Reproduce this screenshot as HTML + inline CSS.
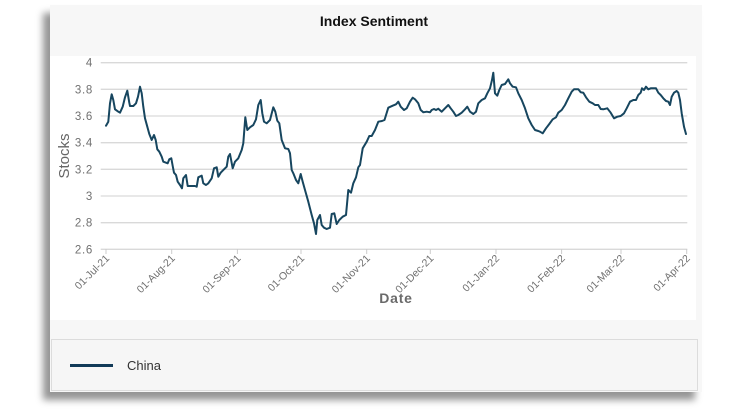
<!DOCTYPE html>
<html>
<head>
<meta charset="utf-8">
<style>
  html, body { margin:0; padding:0; background:#fff; }
  body { width:750px; height:420px; position:relative; overflow:hidden; font-family:"Liberation Sans", sans-serif; }
  .card { position:absolute; left:50px; top:5px; width:652px; height:387px; background:#f7f7f7;
          box-shadow:-7px 8px 7px rgba(0,0,0,0.42); }
  .plot { position:absolute; left:50px; top:56px; width:646px; height:264px; background:#fff; }
  .legend { position:absolute; left:51px; top:339px; width:645px; height:50px; background:#f6f6f6; border:1px solid #dcdcdc; }
  svg { position:absolute; left:0; top:0; }
</style>
</head>
<body>
<div class="card"></div>
<div class="plot"></div>
<div class="legend"></div>
<svg width="750" height="420" viewBox="0 0 750 420">
  <text x="374" y="26" text-anchor="middle" font-family="Liberation Sans, sans-serif" font-size="14" font-weight="bold" fill="#111">Index Sentiment</text>
  <g stroke="#d9d9d9" stroke-width="1.3">
    <line x1="100.7" y1="62.7" x2="687.3" y2="62.7"/>
    <line x1="100.7" y1="89.3" x2="687.3" y2="89.3"/>
    <line x1="100.7" y1="116" x2="687.3" y2="116"/>
    <line x1="100.7" y1="142.7" x2="687.3" y2="142.7"/>
    <line x1="100.7" y1="169.3" x2="687.3" y2="169.3"/>
    <line x1="100.7" y1="196" x2="687.3" y2="196"/>
    <line x1="100.7" y1="222.7" x2="687.3" y2="222.7"/>
    <line x1="100.7" y1="249.3" x2="687.3" y2="249.3"/>
  </g>
  <g stroke="#ccc" stroke-width="1">
    <line x1="106" y1="249" x2="106" y2="254"/>
    <line x1="171.7" y1="249" x2="171.7" y2="254"/>
    <line x1="237.4" y1="249" x2="237.4" y2="254"/>
    <line x1="301" y1="249" x2="301" y2="254"/>
    <line x1="366.7" y1="249" x2="366.7" y2="254"/>
    <line x1="430.3" y1="249" x2="430.3" y2="254"/>
    <line x1="496" y1="249" x2="496" y2="254"/>
    <line x1="561.6" y1="249" x2="561.6" y2="254"/>
    <line x1="621" y1="249" x2="621" y2="254"/>
    <line x1="686.7" y1="249" x2="686.7" y2="254"/>
  </g>
  <g font-family="Liberation Sans, sans-serif" font-size="11.5" fill="#707070" text-anchor="end" letter-spacing="0.7">
    <text x="93" y="66.7">4</text>
    <text x="93" y="93.3">3.8</text>
    <text x="93" y="120">3.6</text>
    <text x="93" y="146.7">3.4</text>
    <text x="93" y="173.3">3.2</text>
    <text x="93" y="200">3</text>
    <text x="93" y="226.7">2.8</text>
    <text x="93" y="253.3">2.6</text>
  </g>
  <text transform="translate(69,156) rotate(-90)" text-anchor="middle" font-family="Liberation Sans, sans-serif" font-size="15" fill="#666">Stocks</text>
  <g font-family="Liberation Sans, sans-serif" font-size="10.5" fill="#707070" text-anchor="end">
    <text transform="translate(110,259) rotate(-45)">01-Jul-21</text>
    <text transform="translate(175.7,259) rotate(-45)">01-Aug-21</text>
    <text transform="translate(241.4,259) rotate(-45)">01-Sep-21</text>
    <text transform="translate(305,259) rotate(-45)">01-Oct-21</text>
    <text transform="translate(370.7,259) rotate(-45)">01-Nov-21</text>
    <text transform="translate(434.3,259) rotate(-45)">01-Dec-21</text>
    <text transform="translate(500,259) rotate(-45)">01-Jan-22</text>
    <text transform="translate(565.6,259) rotate(-45)">01-Feb-22</text>
    <text transform="translate(625,259) rotate(-45)">01-Mar-22</text>
    <text transform="translate(690.7,259) rotate(-45)">01-Apr-22</text>
  </g>
  <text x="396" y="303" text-anchor="middle" font-family="Liberation Sans, sans-serif" font-size="14" font-weight="bold" fill="#6a6a6a" letter-spacing="0.8">Date</text>
  <polyline fill="none" stroke="#17465f" stroke-width="2" stroke-linejoin="round" stroke-linecap="round" points="106,125.7 108.3,121.7 110,103.3 111.7,94.3 113.3,100 115,109.3 118.3,111.7 120,112.7 122.7,106.7 125,97.3 127.3,90.7 129.3,102.7 130,106 133.3,106 136,103.3 138,96.7 140,86.7 141.7,93.3 143.3,106.7 145,118.3 147.3,126.7 149.3,134 151.7,140 154,135 155.7,140 157.3,149.3 159.3,151.7 161.7,156.7 163.3,161.7 166,162.7 167.7,163.3 169.3,159.3 171.3,158.3 172.7,166 174,172.7 176,175 177.7,181.7 180,185 182,188.3 183.3,178.3 186,175 187.7,186 191.7,186 195,186 196.7,186.7 198.3,177.3 201.7,175.7 203.3,183.3 206,185 208.3,183.3 211.7,178.3 214,168.3 216.7,167.3 218.3,176.7 220.7,172.7 224,169.3 226.7,166.7 228.3,156.7 230,154 232.7,168.3 235,161.7 238.3,158.3 241.7,150 243.3,143.3 245.3,117.3 247.3,130 250,127.3 253.3,125 256,119.3 258.3,105 260.7,100 262.3,113.3 264,121.7 266.7,123.3 270,120 273.3,107.3 275.3,111.7 277.3,120.7 279.3,123.3 281.7,140 285,148.3 288.3,149 290,153.3 291.7,170 293.3,173.3 296,180 298.3,183.3 300.7,174 302.7,181.7 305,190 308.3,201.7 311.7,215 314,223.3 316,234 317.3,220 320,215 321.7,225 324,227.7 326.7,229 330,227.7 331.7,214 334.3,213.3 336.7,224 339.3,220 342.7,216.7 346,215 348.3,190 351,192.7 353.3,183.3 356,177.3 358.3,167.3 360,165 362.7,148.3 366.7,141.7 369.3,136 371.7,136 375,130 378.3,121.7 382,121 384.5,120 388.3,107.7 392.7,105.7 396,104.3 398.3,101.7 400.7,106.7 404,110 406.7,108.3 410,101.7 412.7,97.7 415,99.3 418.3,103.3 420.7,110 423.3,112.3 426.7,111.7 430,112.3 431.7,110 434,109 436,110 438.3,108.7 441.7,111.7 445,108.3 448.3,105 450.7,108.3 453.3,111.7 456,116 458.3,115 461.7,112.7 465,109.3 467.3,106.7 470,111.7 473.3,114 476,111.7 478.3,103.3 481.7,100 485,98.3 487.3,93.3 490,88.3 492,80 493.3,72.7 495,93.3 497.3,95.7 499.3,90 501.7,85 505,84 508.3,79.3 510,83.3 512.7,86.7 516,87.3 518.3,93.3 521.7,100 525,108.3 528.3,118.3 531.7,125 535,130 538.3,131 540,131.7 542.7,133.3 546,128.3 549.3,124 552.7,119.3 556,117.3 558.3,112.7 561.7,110 565,105 568.3,98.3 571.7,91.7 574,89.3 578.3,89.3 580.7,92.3 583.3,92.7 586,97.3 589.3,101.7 592.7,103.3 595,105 598.3,105 600.7,109 603.3,109.3 607.3,108.3 610.7,112.7 614,118.3 617.3,116.7 620.7,116 624,113.3 626.7,108.3 630,101.7 633.3,100 636,100 638.3,95 640.7,92.7 642,88.3 644,90 646,86.7 648.3,89.3 650.7,88.3 653.3,88.3 656,88.3 658.3,92.7 660.7,95 663.3,98.3 666,101 668.3,101.7 670,105 671.7,96.7 674,92.7 676.7,91 678.3,92.7 680,100 681.7,113.3 684,126.7 686,134"/>
  <line x1="70" y1="365.5" x2="113" y2="365.5" stroke="#123a58" stroke-width="3"/>
  <text x="127" y="370" font-family="Liberation Sans, sans-serif" font-size="13" fill="#333">China</text>
</svg>
</body>
</html>
